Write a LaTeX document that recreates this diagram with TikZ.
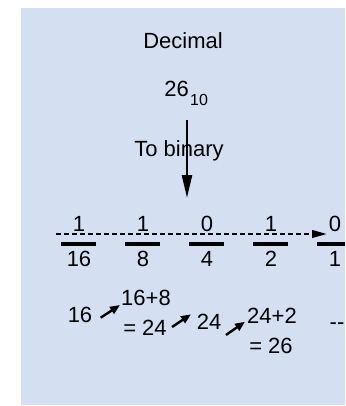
\documentclass[tikz,border=0pt]{standalone}
\usepackage{fontspec}
\setmainfont{Liberation Sans}
\usetikzlibrary{arrows.meta}
\definecolor{bgblue}{RGB}{212,224,242}
\begin{document}
\begin{tikzpicture}[x=1pt,y=-1pt,
  lbl/.style={inner sep=0pt, anchor=base, font=\fontsize{22}{26}\selectfont},
  sublbl/.style={inner sep=0pt, anchor=base west, font=\fontsize{16}{19}\selectfont},
  bar/.style={line width=3.2pt},
  thickarrow/.style={line width=2.4pt, -{Triangle[length=23pt,width=10pt]}},
  dasharrow/.style={line width=2.4pt, dash pattern=on 5pt off 3pt, -{Triangle[length=15pt,width=7.5pt]}},
  smallarrow/.style={line width=2.4pt, -{Triangle[length=10pt,width=8pt]}}]
\useasboundingbox (0,0) rectangle (345,406);
\clip (0,0) rectangle (345,406);
\fill[bgblue] (21,8) rectangle (345,405);

% header
\node[lbl] (dec) at (183,49) {Decimal};
\node[lbl, anchor=base east] (n26) at (189,96.7) {26};
\node[sublbl] (n26sub) at (190,106) {10};
\node[lbl] (tobin) at (179,156) {To binary};
\coordinate (vtop) at (187,120);
\coordinate (vbot) at (187,198);
\draw[thickarrow] (vtop) -- (vbot);

% bit digits
\node[lbl] (d1) at (79,231.7) {1};
\node[lbl] (d2) at (143,231.7) {1};
\node[lbl] (d3) at (207,231.7) {0};
\node[lbl] (d4) at (271,231.7) {1};
\node[lbl] (d5) at (335,231.7) {0};

% dashed arrow
\coordinate (dstart) at (56,234);
\coordinate (dend) at (327,234);
\draw[dasharrow] (dstart) -- (dend);

% underlines
\foreach \c in {78.5,142.5,206.5,270.5,334.5}{
  \draw[bar] (\c-17.5,244) -- (\c+17.5,244);
}

% weights
\node[lbl] (w1) at (79,266.7) {16};
\node[lbl] (w2) at (143,266.7) {8};
\node[lbl] (w3) at (207,266.7) {4};
\node[lbl] (w4) at (271,266.7) {2};
\node[lbl] (w5) at (335,266.7) {1};

% sums
\node[lbl] (s1) at (80,322) {16};
\node[lbl] (s2a) at (146,305) {16+8};
\node[lbl] (s2b) at (145,335) {= 24};
\node[lbl] (s3) at (209,329) {24};
\node[lbl] (s4a) at (272,323) {24+2};
\node[lbl] (s4b) at (271,353) {= 26};
\node[lbl, anchor=base west] (s5) at (329.5,329) {-{}-};

\coordinate (a1s) at (100.7,317.7);
\coordinate (a1e) at (120,305);
\coordinate (a2s) at (172,327);
\coordinate (a2e) at (191,314.3);
\coordinate (a3s) at (226,335);
\coordinate (a3e) at (245,321.7);
\draw[smallarrow] (a1s) -- (a1e);
\draw[smallarrow] (a2s) -- (a2e);
\draw[smallarrow] (a3s) -- (a3e);
\end{tikzpicture}
\end{document}
